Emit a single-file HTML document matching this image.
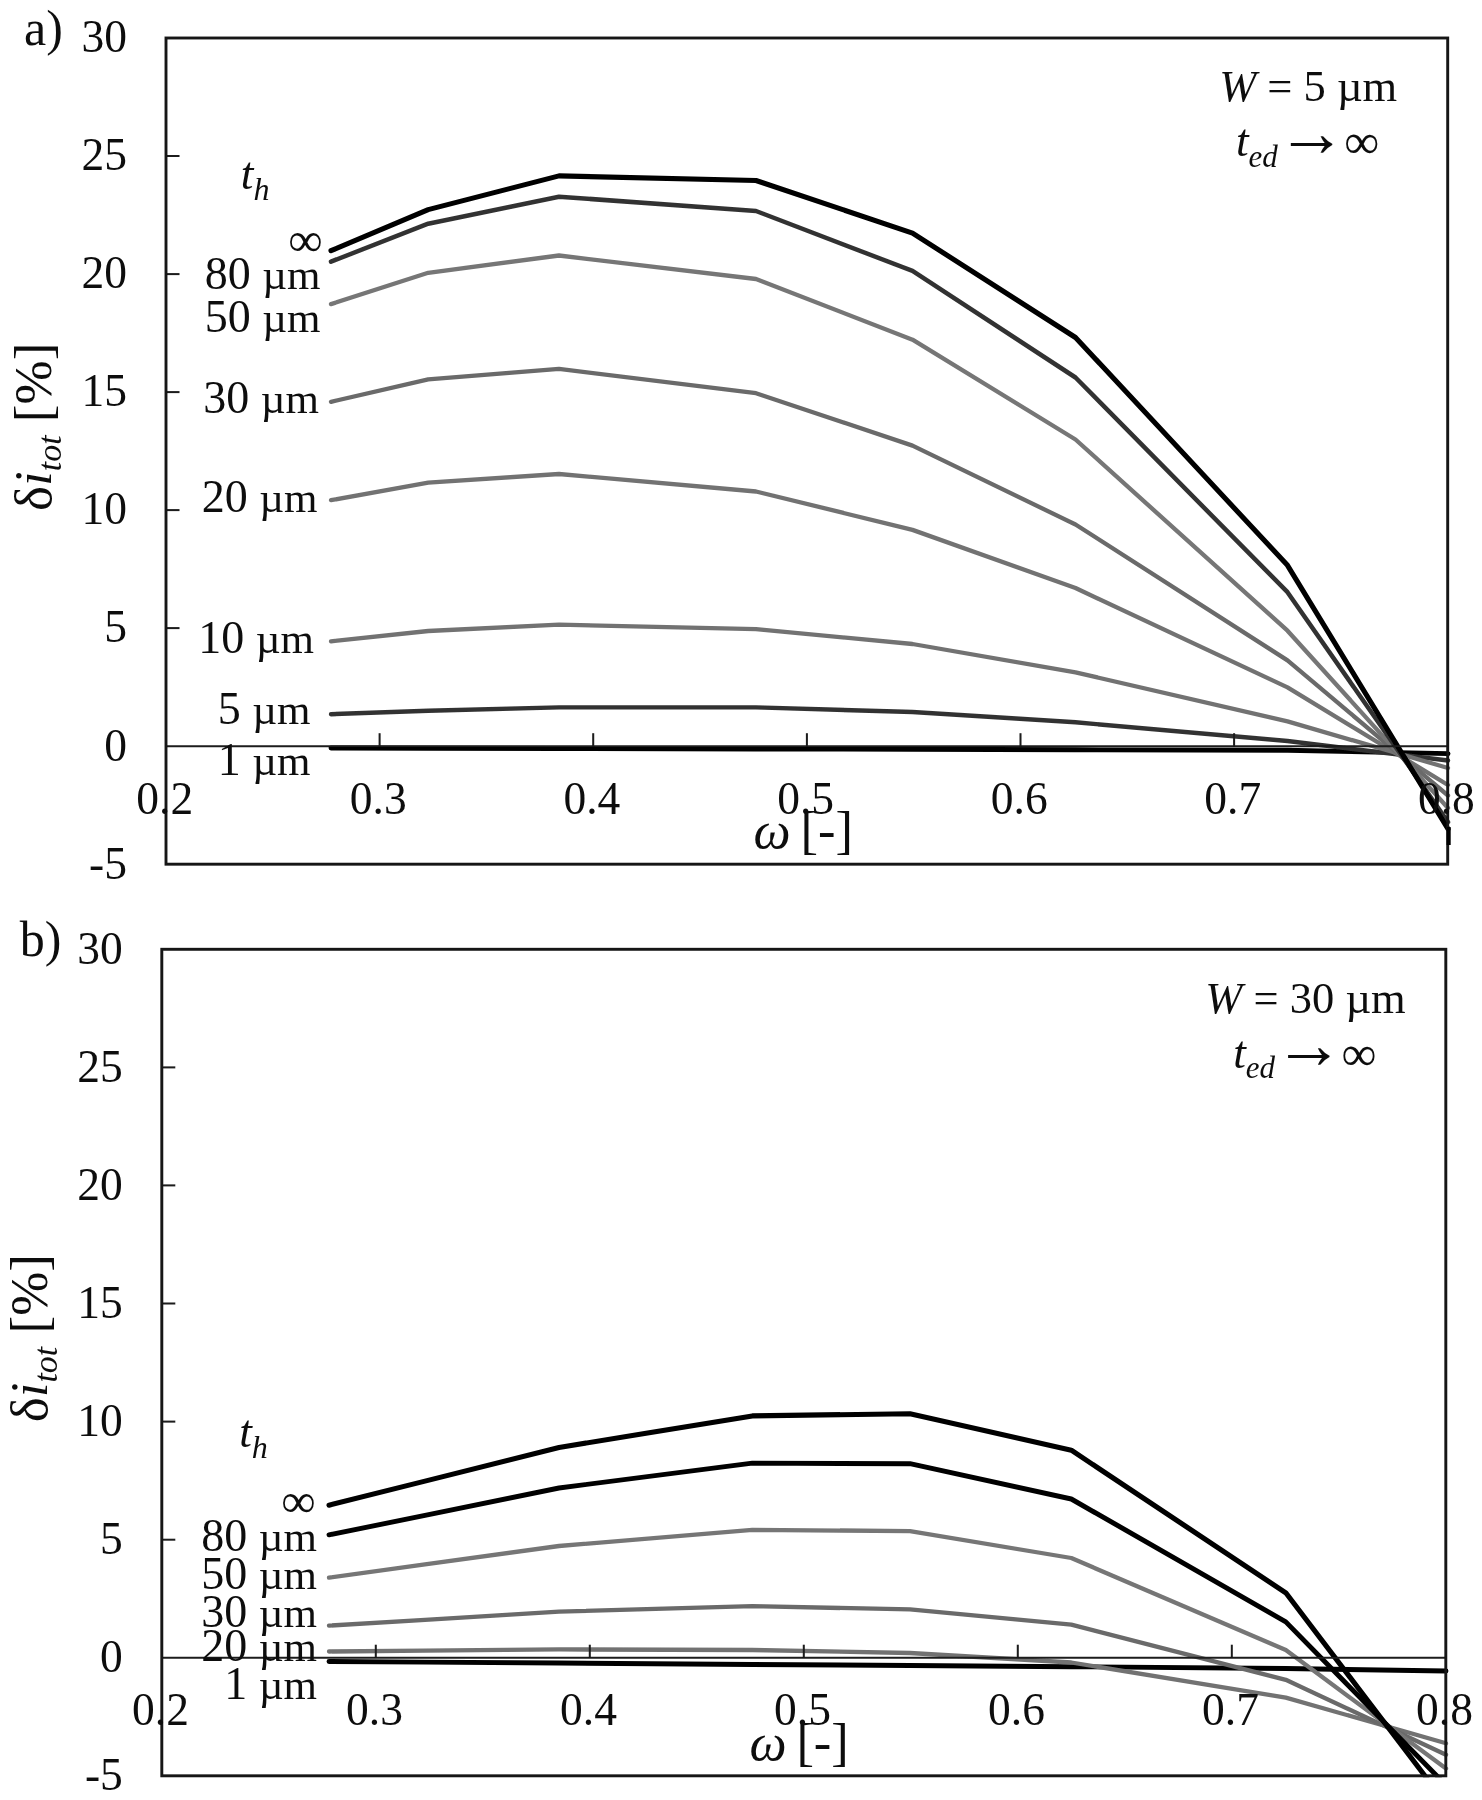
<!DOCTYPE html>
<html lang="en">
<head>
<meta charset="utf-8">
<title>Figure</title>
<style>
html,body{margin:0;padding:0;background:#fff;}
body{width:1482px;height:1800px;overflow:hidden;}
svg{display:block;}
svg text{font-family:"Liberation Serif", "Times New Roman", serif;fill:#111;}
</style>
</head>
<body>
<svg width="1482" height="1800" viewBox="0 0 1482 1800">
<rect width="1482" height="1800" fill="#fff"/>
<defs><filter id="soft" x="0" y="0" width="1482" height="1800" filterUnits="userSpaceOnUse"><feGaussianBlur stdDeviation="0.55"/></filter></defs>
<g filter="url(#soft)">
<clipPath id="clip1"><rect x="164.0" y="38.0" width="1287.2" height="827.7"/></clipPath>
<g clip-path="url(#clip1)">
<polyline points="331.0,748.0 428.2,748.2 559.0,748.5 756.0,749.0 912.5,749.3 1075.5,749.8 1287.5,750.3 1448.0,753.6" fill="none" stroke="#000" stroke-width="4.9" stroke-linecap="round" stroke-linejoin="round"/>
<polyline points="331.0,714.2 428.2,710.7 559.0,707.4 756.0,707.4 912.5,712.0 1075.5,722.3 1287.5,741.0 1448.0,760.5" fill="none" stroke="#333" stroke-width="4.4" stroke-linecap="round" stroke-linejoin="round"/>
<polyline points="331.0,641.3 428.2,631.0 559.0,624.6 756.0,629.2 912.5,644.0 1075.5,672.4 1287.5,721.4 1448.0,768.0" fill="none" stroke="#727272" stroke-width="4.3" stroke-linecap="round" stroke-linejoin="round"/>
<polyline points="331.0,500.2 428.2,482.6 559.0,474.0 756.0,491.5 912.5,529.9 1075.5,588.0 1287.5,687.4 1448.0,785.0" fill="none" stroke="#727272" stroke-width="4.3" stroke-linecap="round" stroke-linejoin="round"/>
<polyline points="331.0,401.8 428.2,379.4 559.0,368.9 756.0,393.2 912.5,445.6 1075.5,524.5 1287.5,660.4 1448.0,795.5" fill="none" stroke="#6a6a6a" stroke-width="4.3" stroke-linecap="round" stroke-linejoin="round"/>
<polyline points="331.0,304.1 428.2,272.8 559.0,255.5 756.0,279.0 912.5,339.7 1075.5,439.5 1287.5,630.7 1448.0,808.0" fill="none" stroke="#767676" stroke-width="4.3" stroke-linecap="round" stroke-linejoin="round"/>
<polyline points="331.0,261.6 428.2,223.7 559.0,196.7 756.0,211.0 912.5,270.9 1075.5,377.5 1287.5,592.2 1448.0,822.0" fill="none" stroke="#333" stroke-width="4.5" stroke-linecap="round" stroke-linejoin="round"/>
<polyline points="331.0,250.7 428.2,209.6 559.0,175.9 756.0,180.5 912.5,233.1 1075.5,337.5 1287.5,565.3 1448.0,829.0" fill="none" stroke="#000" stroke-width="5.1" stroke-linecap="round" stroke-linejoin="round"/>
</g>
<line x1="166.0" y1="746.2" x2="1447.7" y2="746.2" stroke="#1a1a1a" stroke-width="2"/>
<line x1="379.6" y1="733.2" x2="379.6" y2="746.2" stroke="#1a1a1a" stroke-width="2"/>
<line x1="593.2" y1="733.2" x2="593.2" y2="746.2" stroke="#1a1a1a" stroke-width="2"/>
<line x1="806.9" y1="733.2" x2="806.9" y2="746.2" stroke="#1a1a1a" stroke-width="2"/>
<line x1="1020.5" y1="733.2" x2="1020.5" y2="746.2" stroke="#1a1a1a" stroke-width="2"/>
<line x1="1234.1" y1="733.2" x2="1234.1" y2="746.2" stroke="#1a1a1a" stroke-width="2"/>
<line x1="166.0" y1="156.0" x2="179.5" y2="156.0" stroke="#1a1a1a" stroke-width="2"/>
<line x1="166.0" y1="274.1" x2="179.5" y2="274.1" stroke="#1a1a1a" stroke-width="2"/>
<line x1="166.0" y1="392.1" x2="179.5" y2="392.1" stroke="#1a1a1a" stroke-width="2"/>
<line x1="166.0" y1="510.1" x2="179.5" y2="510.1" stroke="#1a1a1a" stroke-width="2"/>
<line x1="166.0" y1="628.1" x2="179.5" y2="628.1" stroke="#1a1a1a" stroke-width="2"/>
<rect x="166.0" y="38.0" width="1281.7" height="826.2" fill="none" stroke="#161616" stroke-width="2.9"/>
<text x="127.0" y="52.3" text-anchor="end" style="font-size:45.5px;" >30</text>
<text x="127.0" y="170.3" text-anchor="end" style="font-size:45.5px;" >25</text>
<text x="127.0" y="288.4" text-anchor="end" style="font-size:45.5px;" >20</text>
<text x="127.0" y="406.4" text-anchor="end" style="font-size:45.5px;" >15</text>
<text x="127.0" y="524.4" text-anchor="end" style="font-size:45.5px;" >10</text>
<text x="127.0" y="642.4" text-anchor="end" style="font-size:45.5px;" >5</text>
<text x="127.0" y="760.5" text-anchor="end" style="font-size:45.5px;" >0</text>
<text x="127.0" y="878.5" text-anchor="end" style="font-size:45.5px;" >-5</text>
<text x="164.7" y="813.7" text-anchor="middle" style="font-size:45.5px;" >0.2</text>
<text x="378.3" y="813.7" text-anchor="middle" style="font-size:45.5px;" >0.3</text>
<text x="591.9" y="813.7" text-anchor="middle" style="font-size:45.5px;" >0.4</text>
<text x="805.6" y="813.7" text-anchor="middle" style="font-size:45.5px;" >0.5</text>
<text x="1019.2" y="813.7" text-anchor="middle" style="font-size:45.5px;" >0.6</text>
<text x="1232.8" y="813.7" text-anchor="middle" style="font-size:45.5px;" >0.7</text>
<text x="1446.4" y="813.7" text-anchor="middle" style="font-size:45.5px;" >0.8</text>
<text x="753.6" y="848.2" style="font-size:52.5px"><tspan style="font-style:italic">ω</tspan><tspan dx="-3.2"> [-]</tspan></text>
<text transform="translate(51.2,511.0) rotate(-90)" style="font-size:53px">δ<tspan style="font-style:italic">i</tspan><tspan style="font-style:italic;font-size:34px" dy="10">tot</tspan><tspan dy="-10"> [%]</tspan></text>
<text x="24.0" y="45.0" text-anchor="start" style="font-size:50px;" >a)</text>
<text x="1308.2" y="100.7" text-anchor="middle" style="font-size:44.5px"><tspan style="font-style:italic">W</tspan> = 5 µm</text>
<text x="1235.9" y="156.2" style="font-size:45.5px"><tspan style="font-style:italic">t</tspan><tspan style="font-style:italic;font-size:31px" dy="10.3">ed</tspan></text>
<text x="1276.7" y="156.2" style="font-size:70px">→</text>
<text x="1344.2" y="158.3" style="font-size:49px">∞</text>
<text x="240.8" y="189.0" style="font-size:45.5px"><tspan style="font-style:italic">t</tspan><tspan style="font-style:italic;font-size:32px" dy="10.5">h</tspan></text>
<text x="322.5" y="256.2" text-anchor="end" style="font-size:48px;" >∞</text>
<text x="320.5" y="289.2" text-anchor="end" style="font-size:46px">80 <tspan style="font-size:43px">µm</tspan></text>
<text x="320.5" y="332.2" text-anchor="end" style="font-size:46px">50 <tspan style="font-size:43px">µm</tspan></text>
<text x="319.0" y="413.3" text-anchor="end" style="font-size:46px">30 <tspan style="font-size:43px">µm</tspan></text>
<text x="317.5" y="512.0" text-anchor="end" style="font-size:46px">20 <tspan style="font-size:43px">µm</tspan></text>
<text x="314.0" y="653.2" text-anchor="end" style="font-size:46px">10 <tspan style="font-size:43px">µm</tspan></text>
<text x="310.5" y="723.5" text-anchor="end" style="font-size:46px">5 <tspan style="font-size:43px">µm</tspan></text>
<text x="310.5" y="774.7" text-anchor="end" style="font-size:46px">1 <tspan style="font-size:43px">µm</tspan></text>
<line x1="1448.6" y1="827" x2="1448.6" y2="845" stroke="#000" stroke-width="4.2"/>
<clipPath id="clip2"><rect x="159.8" y="949.3" width="1289.5" height="828.0"/></clipPath>
<g clip-path="url(#clip2)">
<polyline points="329.0,1661.5 425.0,1662.1 559.0,1663.0 752.3,1664.5 910.0,1665.5 1071.3,1666.7 1285.8,1668.5 1446.0,1671.0" fill="none" stroke="#000" stroke-width="4.9" stroke-linecap="round" stroke-linejoin="round"/>
<polyline points="329.0,1651.5 425.0,1650.6 559.0,1649.4 752.3,1650.0 910.0,1653.0 1071.3,1662.5 1285.8,1697.6 1446.0,1743.3" fill="none" stroke="#727272" stroke-width="4.3" stroke-linecap="round" stroke-linejoin="round"/>
<polyline points="329.0,1625.6 425.0,1619.8 559.0,1611.6 752.3,1606.2 910.0,1609.4 1071.3,1624.6 1285.8,1679.8 1446.0,1754.8" fill="none" stroke="#6a6a6a" stroke-width="4.3" stroke-linecap="round" stroke-linejoin="round"/>
<polyline points="329.0,1577.6 425.0,1564.4 559.0,1546.0 752.3,1529.8 910.0,1531.1 1071.3,1558.0 1285.8,1650.1 1446.0,1768.5" fill="none" stroke="#767676" stroke-width="4.3" stroke-linecap="round" stroke-linejoin="round"/>
<polyline points="329.0,1534.8 425.0,1515.3 559.0,1488.0 752.3,1463.1 910.0,1463.7 1071.3,1499.0 1285.8,1621.9 1446.0,1785.2" fill="none" stroke="#000" stroke-width="4.9" stroke-linecap="round" stroke-linejoin="round"/>
<polyline points="329.0,1505.2 425.0,1481.1 559.0,1447.5 752.3,1415.9 910.0,1413.7 1071.3,1450.2 1285.8,1592.8 1446.0,1803.6" fill="none" stroke="#000" stroke-width="5.1" stroke-linecap="round" stroke-linejoin="round"/>
</g>
<line x1="161.8" y1="1657.7" x2="1445.8" y2="1657.7" stroke="#1a1a1a" stroke-width="2"/>
<line x1="375.8" y1="1644.7" x2="375.8" y2="1657.7" stroke="#1a1a1a" stroke-width="2"/>
<line x1="589.8" y1="1644.7" x2="589.8" y2="1657.7" stroke="#1a1a1a" stroke-width="2"/>
<line x1="803.8" y1="1644.7" x2="803.8" y2="1657.7" stroke="#1a1a1a" stroke-width="2"/>
<line x1="1017.8" y1="1644.7" x2="1017.8" y2="1657.7" stroke="#1a1a1a" stroke-width="2"/>
<line x1="1231.8" y1="1644.7" x2="1231.8" y2="1657.7" stroke="#1a1a1a" stroke-width="2"/>
<line x1="161.8" y1="1067.4" x2="175.3" y2="1067.4" stroke="#1a1a1a" stroke-width="2"/>
<line x1="161.8" y1="1185.4" x2="175.3" y2="1185.4" stroke="#1a1a1a" stroke-width="2"/>
<line x1="161.8" y1="1303.5" x2="175.3" y2="1303.5" stroke="#1a1a1a" stroke-width="2"/>
<line x1="161.8" y1="1421.6" x2="175.3" y2="1421.6" stroke="#1a1a1a" stroke-width="2"/>
<line x1="161.8" y1="1539.7" x2="175.3" y2="1539.7" stroke="#1a1a1a" stroke-width="2"/>
<rect x="161.8" y="949.3" width="1284.0" height="826.5" fill="none" stroke="#161616" stroke-width="2.9"/>
<text x="122.8" y="963.6" text-anchor="end" style="font-size:45.5px;" >30</text>
<text x="122.8" y="1081.7" text-anchor="end" style="font-size:45.5px;" >25</text>
<text x="122.8" y="1199.7" text-anchor="end" style="font-size:45.5px;" >20</text>
<text x="122.8" y="1317.8" text-anchor="end" style="font-size:45.5px;" >15</text>
<text x="122.8" y="1435.9" text-anchor="end" style="font-size:45.5px;" >10</text>
<text x="122.8" y="1554.0" text-anchor="end" style="font-size:45.5px;" >5</text>
<text x="122.8" y="1672.0" text-anchor="end" style="font-size:45.5px;" >0</text>
<text x="122.8" y="1790.1" text-anchor="end" style="font-size:45.5px;" >-5</text>
<text x="160.5" y="1725.2" text-anchor="middle" style="font-size:45.5px;" >0.2</text>
<text x="374.5" y="1725.2" text-anchor="middle" style="font-size:45.5px;" >0.3</text>
<text x="588.5" y="1725.2" text-anchor="middle" style="font-size:45.5px;" >0.4</text>
<text x="802.5" y="1725.2" text-anchor="middle" style="font-size:45.5px;" >0.5</text>
<text x="1016.5" y="1725.2" text-anchor="middle" style="font-size:45.5px;" >0.6</text>
<text x="1230.5" y="1725.2" text-anchor="middle" style="font-size:45.5px;" >0.7</text>
<text x="1444.5" y="1725.2" text-anchor="middle" style="font-size:45.5px;" >0.8</text>
<text x="749.4" y="1759.7" style="font-size:52.5px"><tspan style="font-style:italic">ω</tspan><tspan dx="-3.2"> [-]</tspan></text>
<text transform="translate(47.0,1422.3) rotate(-90)" style="font-size:53px">δ<tspan style="font-style:italic">i</tspan><tspan style="font-style:italic;font-size:34px" dy="10">tot</tspan><tspan dy="-10"> [%]</tspan></text>
<text x="19.8" y="956.3" text-anchor="start" style="font-size:50px;" >b)</text>
<text x="1305.5" y="1013.2" text-anchor="middle" style="font-size:44.5px"><tspan style="font-style:italic">W</tspan> = 30 µm</text>
<text x="1233.2" y="1067.5" style="font-size:45.5px"><tspan style="font-style:italic">t</tspan><tspan style="font-style:italic;font-size:31px" dy="10.3">ed</tspan></text>
<text x="1274.0" y="1067.5" style="font-size:70px">→</text>
<text x="1341.5" y="1069.6" style="font-size:49px">∞</text>
<text x="239.2" y="1447.2" style="font-size:45.5px"><tspan style="font-style:italic">t</tspan><tspan style="font-style:italic;font-size:32px" dy="10.5">h</tspan></text>
<text x="315.5" y="1516.5" text-anchor="end" style="font-size:48px;" >∞</text>
<text x="317.0" y="1550.6" text-anchor="end" style="font-size:46px">80 <tspan style="font-size:43px">µm</tspan></text>
<text x="317.0" y="1589.2" text-anchor="end" style="font-size:46px">50 <tspan style="font-size:43px">µm</tspan></text>
<text x="317.0" y="1627.0" text-anchor="end" style="font-size:46px">30 <tspan style="font-size:43px">µm</tspan></text>
<text x="317.0" y="1661.0" text-anchor="end" style="font-size:46px">20 <tspan style="font-size:43px">µm</tspan></text>
<text x="317.0" y="1699.0" text-anchor="end" style="font-size:46px">1 <tspan style="font-size:43px">µm</tspan></text>
</g>
</svg>
</body>
</html>
